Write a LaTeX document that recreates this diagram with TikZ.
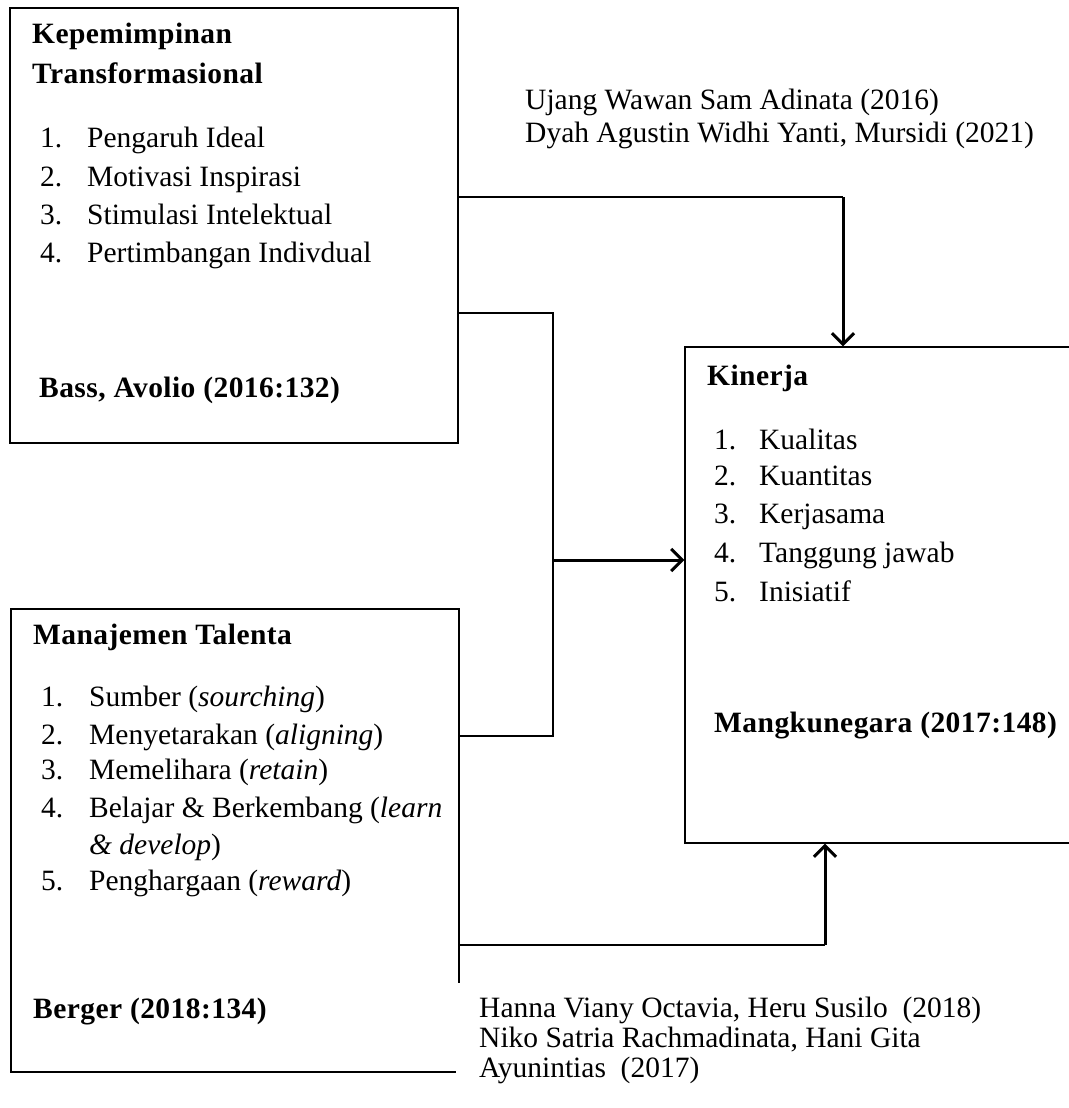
\documentclass[tikz,border=0pt]{standalone}
\usepackage{fontspec}
\setmainfont{Liberation Serif}
\usetikzlibrary{arrows.meta}
\begin{document}
\begin{tikzpicture}[x=1pt,y=-1pt,
  box/.style={draw, line width=1.4pt, inner sep=0pt},
  txt/.style={anchor=base west, inner sep=0pt, font=\fontsize{29.5}{34}\selectfont},
  btxt/.style={anchor=base west, inner sep=0pt, font=\fontsize{29.5}{34}\selectfont\bfseries\addfontfeature{LetterSpace=1.5}},
  thinline/.style={line width=1.4pt},
  thickline/.style={line width=3pt},
  tip/.style={-{Straight Barb[length=11pt,width=22pt,line width=3pt]}}
]
\useasboundingbox (0,0) rectangle (1068,1108);

% boxes
\node[box, minimum width=448pt, minimum height=435pt] (tl) at (234,225.5) {};
\node[box, minimum width=448pt, minimum height=463pt] (mt) at (235,840.5) {};
\node[box, minimum width=425pt, minimum height=496pt] (k) at (897.5,595) {};

% connectors
\coordinate (a1) at (843,197);
\draw[thinline] (tl.east |- a1) -- (a1);
\draw[thickline,tip] (a1) -- (a1 |- k.north);

\coordinate (b1) at (553,313);
\coordinate (b2) at (553,736);
\draw[thinline] (tl.east |- b1) -- (b1) -- (b2) -- (mt.east |- b2);

\coordinate (c1) at (553,560);
\draw[thickline,tip] (c1) -- (k.west |- c1);

\coordinate (d1) at (825,945);
\draw[line width=2pt] (mt.east |- d1) -- (d1);
\draw[thickline,tip] (d1) -- (d1 |- k.south);

% cover of the lower text area
\fill[white] (456,983) rectangle (1068,1108);

% box 1 text
\node[btxt] (tl0) at (32,44) {Kepemimpinan};
\node[btxt] (tl00) at (32,84) {Transformasional};
\node[txt] (tl1) at (40,147) {\makebox[47pt][l]{1.}Pengaruh Ideal};
\node[txt] (tl2) at (40,186) {\makebox[47pt][l]{2.}Motivasi Inspirasi};
\node[txt] (tl3) at (40,224) {\makebox[47pt][l]{3.}Stimulasi Intelektual};
\node[txt] (tl4) at (40,262) {\makebox[47pt][l]{4.}Pertimbangan Indivdual};
\node[btxt] (tlr) at (39,397) {Bass, Avolio (2016:132)};

% box 2 text
\node[btxt] (mt0) at (33,644) {Manajemen Talenta};
\node[txt] (mt1) at (41,706) {\makebox[48pt][l]{1.}Sumber (\textit{sourching})};
\node[txt] (mt2) at (41,744) {\makebox[48pt][l]{2.}Menyetarakan (\textit{aligning})};
\node[txt] (mt3) at (41,779) {\makebox[48pt][l]{3.}Memelihara (\textit{retain})};
\node[txt] (mt4) at (41,817) {\makebox[48pt][l]{4.}Belajar \& Berkembang (\textit{learn}};
\node[txt] (mt4b) at (41,854) {\makebox[48pt][l]{}\textit{\& develop})};
\node[txt] (mt5) at (41,890) {\makebox[48pt][l]{5.}Penghargaan (\textit{reward})};
\node[btxt] (mtr) at (33,1018) {Berger (2018:134)};

% box 3 text
\node[btxt] (k0) at (707,385) {Kinerja};
\node[txt] (k1) at (714,449) {\makebox[45pt][l]{1.}Kualitas};
\node[txt] (k2) at (714,485) {\makebox[45pt][l]{2.}Kuantitas};
\node[txt] (k3) at (714,523) {\makebox[45pt][l]{3.}Kerjasama};
\node[txt] (k4) at (714,562) {\makebox[45pt][l]{4.}Tanggung jawab};
\node[txt] (k5) at (714,601) {\makebox[45pt][l]{5.}Inisiatif};
\node[btxt] (kr) at (714,732) {Mangkunegara (2017:148)};

% reference labels
\node[txt] (r1) at (525,109) {Ujang Wawan Sam Adinata (2016)};
\node[txt] (r2) at (525,142) {Dyah Agustin Widhi Yanti, Mursidi (2021)};
\node[txt] (r3) at (479,1017) {Hanna Viany Octavia, Heru Susilo~ (2018)};
\node[txt] (r4) at (479,1047) {Niko Satria Rachmadinata, Hani Gita};
\node[txt] (r5) at (479,1077) {Ayunintias~ (2017)};
\end{tikzpicture}
\end{document}
